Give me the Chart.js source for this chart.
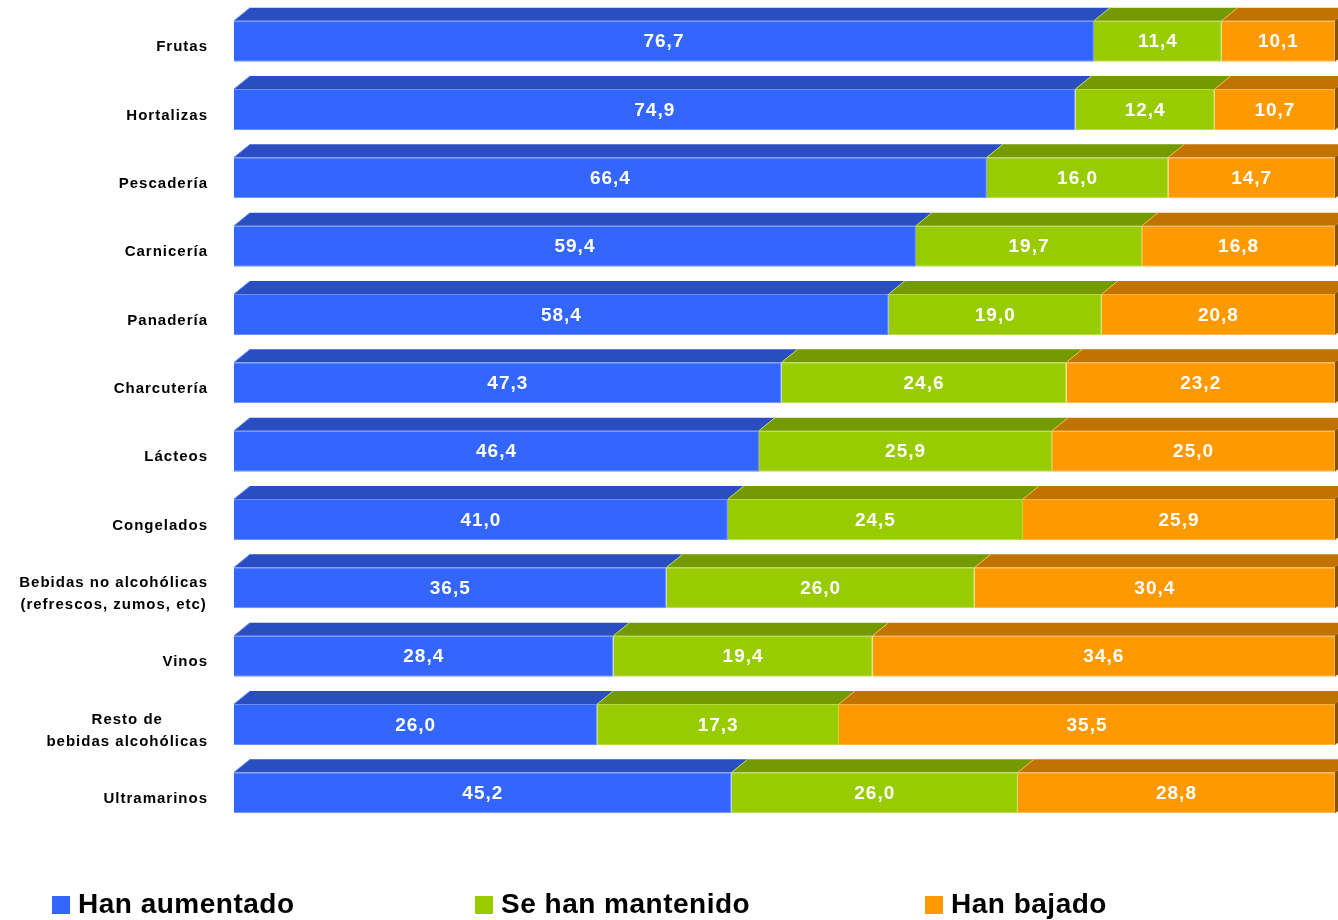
<!DOCTYPE html>
<html>
<head>
<meta charset="utf-8">
<script src="https://cdn.jsdelivr.net/npm/chart.js@4/dist/chart.umd.min.js"></script>
<style>
  body { margin: 0; background: #fff; font-family: "Liberation Sans", Arial, sans-serif; }
  #wrap { position: relative; width: 1338px; height: 920px; }
  .legend { position: absolute; top: 888px; font-weight: bold; font-size: 28px; letter-spacing: 0.5px; color: #000; white-space: nowrap; }
  .legend span { display: inline-block; width: 18px; height: 18px; margin-right: 8px; vertical-align: -1px; }
</style>
</head>
<body>
<div id="wrap">
  <canvas id="chart" width="1338" height="920"></canvas>
  <div class="legend" style="left:52px"><span style="background:#3366FF"></span>Han aumentado</div>
  <div class="legend" style="left:475px"><span style="background:#99CC00"></span>Se han mantenido</div>
  <div class="legend" style="left:925px"><span style="background:#FF9900"></span>Han bajado</div>
</div>
<script>
// Data
let categories = [
  "Frutas", "Hortalizas", "Pescadería", "Carnicería", "Panadería", "Charcutería",
  "Lácteos", "Congelados", ["Bebidas no alcohólicas", "(refrescos, zumos, etc)"],
  "Vinos", ["Resto de", "bebidas alcohólicas"], "Ultramarinos"
];
let aumentado = [76.7, 74.9, 66.4, 59.4, 58.4, 47.3, 46.4, 41.0, 36.5, 28.4, 26.0, 45.2];
let mantenido = [11.4, 12.4, 16.0, 19.7, 19.0, 24.6, 25.9, 24.5, 26.0, 19.4, 17.3, 26.0];
let bajado    = [10.1, 10.7, 14.7, 16.8, 20.8, 23.2, 25.0, 25.9, 30.4, 34.6, 35.5, 28.8];

let series = [
  { label: "Han aumentado", raw: aumentado, color: "#3366FF", top: "#2A4EC2", edge: "#6A8FFF" },
  { label: "Se han mantenido", raw: mantenido, color: "#99CC00", top: "#739A00", edge: "#B8DD44" },
  { label: "Han bajado", raw: bajado, color: "#FF9900", top: "#C07300", edge: "#FFB347" }
];

// 100% stacked: each row normalised to its total
let totals = categories.map((c, i) => series.reduce((s, d) => s + d.raw[i], 0));

const DX = 16, DY = 13;

// 3D top and side faces
let depthPlugin = {
  id: "depth",
  afterDatasetsDraw(chart) {
    let ctx = chart.ctx;
    let n = chart.data.datasets.length;
    chart.data.datasets.forEach((ds, di) => {
      let meta = chart.getDatasetMeta(di);
      meta.data.forEach(bar => {
        let left = Math.min(bar.base, bar.x), right = Math.max(bar.base, bar.x);
        let top = bar.y - bar.height / 2, bottom = bar.y + bar.height / 2;
        ctx.save();
        ctx.fillStyle = series[di].top;
        ctx.strokeStyle = series[di].edge;
        ctx.lineWidth = 1;
        ctx.beginPath();
        ctx.moveTo(left, top);
        ctx.lineTo(left + DX, top - DY);
        ctx.lineTo(right + DX, top - DY);
        ctx.lineTo(right, top);
        ctx.closePath();
        ctx.fill();
        ctx.beginPath();
        ctx.moveTo(left, top);
        ctx.lineTo(left + DX, top - DY);
        ctx.stroke();
        if (di === n - 1) {
          ctx.fillStyle = "#8A5300";
          ctx.beginPath();
          ctx.moveTo(right, top);
          ctx.lineTo(right + DX, top - DY);
          ctx.lineTo(right + DX, bottom - DY);
          ctx.lineTo(right, bottom);
          ctx.closePath();
          ctx.fill();
        }
        ctx.restore();
      });
    });
  }
};

// Value labels inside the bars
let valuePlugin = {
  id: "values",
  afterDatasetsDraw(chart) {
    let ctx = chart.ctx;
    ctx.save();
    ctx.fillStyle = "#fff";
    ctx.font = "bold 19px 'Liberation Sans', Arial, sans-serif";
    ctx.letterSpacing = "1px";
    ctx.textAlign = "center";
    ctx.textBaseline = "middle";
    chart.data.datasets.forEach((ds, di) => {
      chart.getDatasetMeta(di).data.forEach((bar, i) => {
        let v = series[di].raw[i].toFixed(1).replace(".", ",");
        ctx.fillText(v, (bar.base + bar.x) / 2, bar.y + 1);
      });
    });
    ctx.restore();
  }
};

// Category labels: block right aligned, lines centred
let catPlugin = {
  id: "cats",
  afterDraw(chart) {
    let ctx = chart.ctx;
    let y = chart.scales.y;
    ctx.save();
    ctx.fillStyle = "#000";
    ctx.font = "bold 15px 'Liberation Sans', Arial, sans-serif";
    ctx.letterSpacing = "1px";
    ctx.textAlign = "center";
    ctx.textBaseline = "middle";
    categories.forEach((c, i) => {
      let lines = Array.isArray(c) ? c : [c];
      let w = Math.max(...lines.map(l => ctx.measureText(l).width));
      let cx = 208 - w / 2;
      let cy = y.getPixelForTick(i) + 6;
      let lh = 22;
      lines.forEach((l, k) => {
        ctx.fillText(l, cx, cy + (k - (lines.length - 1) / 2) * lh);
      });
    });
    ctx.restore();
  }
};

new Chart(document.getElementById("chart"), {
  type: "bar",
  data: {
    labels: categories,
    datasets: series.map(s => ({
      label: s.label,
      data: s.raw.map((v, i) => v / totals[i] * 100),
      backgroundColor: s.color,
      borderColor: s.edge,
      borderWidth: 1,
      barPercentage: 0.6,
      categoryPercentage: 1
    }))
  },
  options: {
    indexAxis: "y",
    responsive: false,
    animation: false,
    layout: { padding: { left: 234, right: 3, top: 7, bottom: 93 } },
    plugins: { legend: { display: false }, tooltip: { enabled: false } },
    scales: {
      x: { stacked: true, min: 0, max: 100, display: false },
      y: { stacked: true, display: false }
    }
  },
  plugins: [depthPlugin, valuePlugin, catPlugin]
});
</script>
</body>
</html>
